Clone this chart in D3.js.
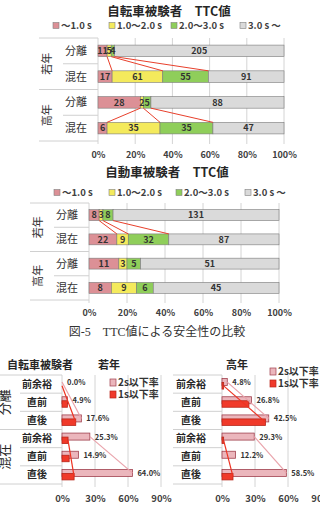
<!DOCTYPE html>
<html>
<head>
<meta charset="utf-8">
<script src="https://cdnjs.cloudflare.com/ajax/libs/d3/7.8.5/d3.min.js"></script>
<style>
body { margin: 0; background: #fff; }
svg { display: block; font-family: "Noto Sans CJK JP", "Noto Sans", sans-serif; }
</style>
</head>
<body>
<div id="chart"></div>
<script>
// TTC bins (top two stacked charts)
const ttcBins = ['～1.0 s', '1.0～2.0 s', '2.0～3.0 s', '3.0 s ～'];
const ttcColors = ['#dc9096', '#f4ea5c', '#8fce5a', '#dadada'];
const ageGroups = ['若年', '高年'];
const roadTypes = ['分離', '混在'];
// rows: 若年分離, 若年混在, 高年分離, 高年混在
const bikeCounts = [[11, 5, 4, 205], [17, 61, 55, 91], [28, 2, 5, 88], [6, 35, 35, 47]];
const carCounts = [[8, 3, 8, 131], [22, 9, 32, 87], [11, 3, 5, 51], [8, 9, 6, 45]];
const pctTicks = [0, 0.2, 0.4, 0.6, 0.8, 1];

// bottom two bar charts (%), rows: 分離 前余裕/直前/直後, 混在 前余裕/直前/直後
const phases = ['前余裕', '直前', '直後'];
const rateSeries = ['2s以下率', '1s以下率'];
const rateColors = ['#ebb6bc', '#f03a2a'];
const young2s = [0.0, 4.9, 17.6, 25.3, 14.9, 64.0];
const young1s = [0.0, 4.9, 12.5, 5.5, 6.5, 11.0];
const old2s = [4.8, 26.8, 42.5, 29.3, 12.2, 58.5];
const old1s = [1.5, 24.5, 39.5, 1.5, 0.0, 10.0];
const rateTicks = [0, 30, 60, 90];

const svg = d3.select('#chart').append('svg')
    .attr('width', 320)
    .attr('height', 512);

function stackChart(cfg) {
    const rows = ageGroups.flatMap(a => roadTypes.map(r => a + r));
    const x = d3.scaleLinear().domain([0, 1]).range([cfg.x0, cfg.x1]);
    const y = d3.scaleBand().domain(rows).range([cfg.y0, cfg.y1]);
    const bh = y.bandwidth() * 0.45;
    const barTop = r => y(r) + (y.bandwidth() - bh) / 2;
    const series = d3.stack()
        .keys(d3.range(ttcBins.length))
        .offset(d3.stackOffsetExpand)(cfg.counts);

    const g = svg.append('g');

    g.append('text')
        .attr('x', cfg.titleX)
        .attr('y', cfg.titleY)
        .attr('text-anchor', 'middle')
        .attr('font-size', 12.5)
        .attr('font-weight', 'bold')
        .attr('fill', '#262626')
        .text(cfg.title);

    // legend
    const lg = g.selectAll('g.leg')
        .data(ttcBins)
        .join('g')
        .attr('transform', (d, i) => `translate(${cfg.legendX[i]},${cfg.legendY})`);
    lg.append('rect')
        .attr('y', -6.5)
        .attr('width', 6)
        .attr('height', 6)
        .attr('fill', (d, i) => ttcColors[i])
        .attr('stroke', '#808080')
        .attr('stroke-width', 0.6);
    lg.append('text')
        .attr('x', 8)
        .attr('font-size', 9.5)
        .attr('font-weight', 'bold')
        .attr('fill', '#404040')
        .text(d => d);

    // vertical gridlines
    g.selectAll('line.grid')
        .data(pctTicks)
        .join('line')
        .attr('x1', d => x(d))
        .attr('x2', d => x(d))
        .attr('y1', cfg.y0)
        .attr('y2', cfg.y1 + 3)
        .attr('stroke', '#d4d4d4')
        .attr('stroke-width', 1);

    // category separators (multi-level axis)
    const bounds = d3.range(rows.length + 1);
    g.selectAll('line.sep')
        .data(bounds)
        .join('line')
        .attr('x1', i => (i % 2 === 0 ? cfg.left : cfg.sub))
        .attr('x2', cfg.x0)
        .attr('y1', i => cfg.y0 + i * y.step())
        .attr('y2', i => cfg.y0 + i * y.step())
        .attr('stroke', '#d0d0d0')
        .attr('stroke-width', 1);

    // stacked bars
    g.selectAll('g.ser')
        .data(series)
        .join('g')
        .attr('fill', (d, i) => ttcColors[i])
        .selectAll('rect')
        .data(d => d.map((s, j) => ({ s, row: rows[j] })))
        .join('rect')
        .attr('x', d => x(d.s[0]))
        .attr('width', d => x(d.s[1]) - x(d.s[0]))
        .attr('y', d => barTop(d.row))
        .attr('height', bh)
        .attr('stroke', '#7a7a7a')
        .attr('stroke-width', 0.6);

    // series lines between 分離 and 混在
    const links = [];
    cfg.linkGroups.forEach(gi => {
        const r1 = gi * 2, r2 = gi * 2 + 1;
        for (let k = 0; k < ttcBins.length - 1; k++) {
            links.push({
                x1: x(series[k][r1][1]), y1: barTop(rows[r1]) + bh,
                x2: x(series[k][r2][1]), y2: barTop(rows[r2])
            });
        }
    });
    g.selectAll('line.link')
        .data(links)
        .join('line')
        .attr('x1', d => d.x1).attr('y1', d => d.y1)
        .attr('x2', d => d.x2).attr('y2', d => d.y2)
        .attr('stroke', '#e8402c')
        .attr('stroke-width', 1);

    // value labels
    g.selectAll('g.lab')
        .data(series)
        .join('g')
        .selectAll('text')
        .data((d, i) => d.map((s, j) => ({ s, row: rows[j], v: cfg.counts[j][i] })))
        .join('text')
        .attr('x', d => x((d.s[0] + d.s[1]) / 2))
        .attr('y', d => barTop(d.row) + bh / 2 + 3.3)
        .attr('text-anchor', 'middle')
        .attr('font-size', 9)
        .attr('font-weight', 'bold')
        .attr('fill', '#333')
        .text(d => d.v);

    // x axis
    const axis = g.append('g')
        .attr('transform', `translate(0,${cfg.axisY})`)
        .call(d3.axisBottom(x).tickValues(pctTicks).tickFormat(d3.format('.0%')).tickSize(0));
    axis.select('.domain').remove();
    axis.selectAll('text')
        .attr('font-size', 9)
        .attr('font-weight', 'bold')
        .attr('fill', '#404040')
        .attr('font-family', '"Noto Sans CJK JP", sans-serif');

    // category labels
    g.selectAll('text.cat')
        .data(rows)
        .join('text')
        .attr('x', cfg.catX)
        .attr('y', r => y(r) + y.bandwidth() / 2 + 4)
        .attr('text-anchor', 'middle')
        .attr('font-size', 11)
        .attr('fill', '#333')
        .text(r => r.slice(2));

    // group labels (rotated)
    g.selectAll('text.grp')
        .data(ageGroups)
        .join('text')
        .attr('transform', (a, i) => `translate(${cfg.grpX},${cfg.y0 + (i * 2 + 1) * y.step()}) rotate(-90)`)
        .attr('text-anchor', 'middle')
        .attr('dy', 4)
        .attr('font-size', 11)
        .attr('fill', '#333')
        .text(a => a);
}

function rateChart(cfg) {
    const rows = roadTypes.flatMap(r => phases.map(p => r + p));
    const x = d3.scaleLinear().domain([0, 90]).range([cfg.x0, cfg.x1]);
    const y = d3.scaleBand().domain(rows).range([cfg.y0, cfg.y1]);
    const mid = r => y(r) + y.bandwidth() / 2;
    const vals = [cfg.v2, cfg.v1];
    const offs = [[-5.5, 7], [-1.5, 6.5]];

    const g = svg.append('g');

    cfg.titles.forEach(t => {
        g.append('text')
            .attr('x', t.x)
            .attr('y', 369)
            .attr('font-size', 11)
            .attr('font-weight', 'bold')
            .attr('fill', '#262626')
            .text(t.text);
    });

    // gridlines
    g.selectAll('line.grid')
        .data(rateTicks)
        .join('line')
        .attr('x1', d => x(d))
        .attr('x2', d => x(d))
        .attr('y1', cfg.y0)
        .attr('y2', cfg.y1 + 3)
        .attr('stroke', '#d4d4d4');

    g.selectAll('line.sep')
        .data(d3.range(rows.length + 1))
        .join('line')
        .attr('x1', i => (i % 3 === 0 ? cfg.left : cfg.sub))
        .attr('x2', cfg.x0)
        .attr('y1', i => cfg.y0 + i * y.step())
        .attr('y2', i => cfg.y0 + i * y.step())
        .attr('stroke', '#d0d0d0');

    // bars: 2s (pink) under, 1s (red) over
    vals.forEach((v, k) => {
        g.append('g')
            .selectAll('rect')
            .data(v)
            .join('rect')
            .attr('x', x(0))
            .attr('width', d => x(d) - x(0))
            .attr('y', (d, j) => mid(rows[j]) + offs[k][0])
            .attr('height', offs[k][1])
            .attr('fill', rateColors[k])
            .attr('stroke', k === 0 ? '#a0404e' : '#b8261a')
            .attr('stroke-width', 0.8);
    });

    // lines from 前余裕 to 直後 in each group
    const lines = [];
    roadTypes.forEach((rt, gi) => {
        vals.forEach((v, k) => {
            const a = gi * 3, b = gi * 3 + 2;
            lines.push({
                k,
                x1: x(v[a]), y1: mid(rows[a]) + offs[k][0] + offs[k][1] / 2,
                x2: x(v[b]), y2: mid(rows[b]) + offs[k][0] + offs[k][1] / 2
            });
        });
    });
    g.selectAll('line.trend')
        .data(lines)
        .join('line')
        .attr('x1', d => d.x1).attr('y1', d => d.y1)
        .attr('x2', d => d.x2).attr('y2', d => d.y2)
        .attr('stroke', d => (d.k === 0 ? '#e9a3ab' : '#ee3322'))
        .attr('stroke-width', 1.2);

    // value labels for 2s series
    g.selectAll('text.val')
        .data(cfg.v2)
        .join('text')
        .attr('x', d => x(d) + 5)
        .attr('y', (d, j) => mid(rows[j]) + 1)
        .attr('font-size', 7.5)
        .attr('font-weight', 'bold')
        .attr('fill', '#333')
        .text(d => d.toFixed(1) + '%');

    // legend
    const lg = g.selectAll('g.leg')
        .data(rateSeries)
        .join('g')
        .attr('transform', (d, i) => `translate(${cfg.legendX},${cfg.legendY + i * 12})`);
    lg.append('rect')
        .attr('y', -7)
        .attr('width', 6)
        .attr('height', 7)
        .attr('fill', (d, i) => rateColors[i])
        .attr('stroke', (d, i) => (i === 0 ? '#a0404e' : '#b8261a'))
        .attr('stroke-width', 0.7);
    lg.append('text')
        .attr('x', 8)
        .attr('font-size', 10)
        .attr('font-weight', 'bold')
        .attr('fill', '#333')
        .text(d => d);

    // axis
    const axis = g.append('g')
        .attr('transform', `translate(0,${cfg.axisY})`)
        .call(d3.axisBottom(x).tickValues(rateTicks).tickFormat(d => d + '%').tickSize(0));
    axis.select('.domain').remove();
    axis.selectAll('text')
        .attr('font-size', 9.5)
        .attr('font-weight', 'bold')
        .attr('fill', '#404040')
        .attr('font-family', '"Noto Sans CJK JP", sans-serif');

    // category labels
    g.selectAll('text.cat')
        .data(rows)
        .join('text')
        .attr('x', cfg.catX)
        .attr('y', r => mid(r) + 3.5)
        .attr('text-anchor', 'middle')
        .attr('font-size', 10)
        .attr('font-weight', 'bold')
        .attr('fill', '#262626')
        .text(r => r.slice(2));

    if (cfg.showGroups) {
        g.selectAll('text.grp')
            .data(roadTypes)
            .join('text')
            .attr('transform', (a, i) => `translate(${cfg.grpX},${cfg.y0 + (i * 3 + 1.5) * y.step()}) rotate(-90)`)
            .attr('text-anchor', 'middle')
            .attr('dy', 4.5)
            .attr('font-size', 13)
            .attr('fill', '#262626')
            .text(a => a);
    }
}

stackChart({
    title: '自転車被験者　TTC値', titleX: 169, titleY: 16,
    legendX: [53, 109, 171, 240], legendY: 29,
    counts: bikeCounts,
    x0: 98, x1: 284, y0: 38, y1: 141,
    left: 39, sub: 63, catX: 76, grpX: 47,
    axisY: 149, linkGroups: [0, 1]
});

stackChart({
    title: '自動車被験者　TTC値', titleX: 167, titleY: 177,
    legendX: [54, 109, 176, 245], legendY: 196,
    counts: carCounts,
    x0: 89, x1: 279, y0: 203, y1: 300,
    left: 30, sub: 54, catX: 67, grpX: 38,
    axisY: 307, linkGroups: [0]
});

svg.append('text')
    .attr('x', 157)
    .attr('y', 336)
    .attr('text-anchor', 'middle')
    .attr('font-size', 12)
    .attr('font-family', '"Liberation Serif", "Noto Sans CJK JP", serif')
    .attr('fill', '#333')
    .text('図-5　TTC値による安全性の比較');

rateChart({
    titles: [{ text: '自転車被験者', x: 7 }, { text: '若年', x: 98 }],
    v2: young2s, v1: young1s,
    x0: 62, x1: 161, y0: 375, y1: 484,
    left: 0, sub: 20, catX: 37, grpX: 4, showGroups: true,
    legendX: 110, legendY: 386, axisY: 492
});

rateChart({
    titles: [{ text: '高年', x: 226 }],
    v2: old2s, v1: old1s,
    x0: 222, x1: 321, y0: 375, y1: 484,
    left: 173, sub: 173, catX: 191, grpX: 165, showGroups: false,
    legendX: 270, legendY: 375, axisY: 492
});
</script>
</body>
</html>
